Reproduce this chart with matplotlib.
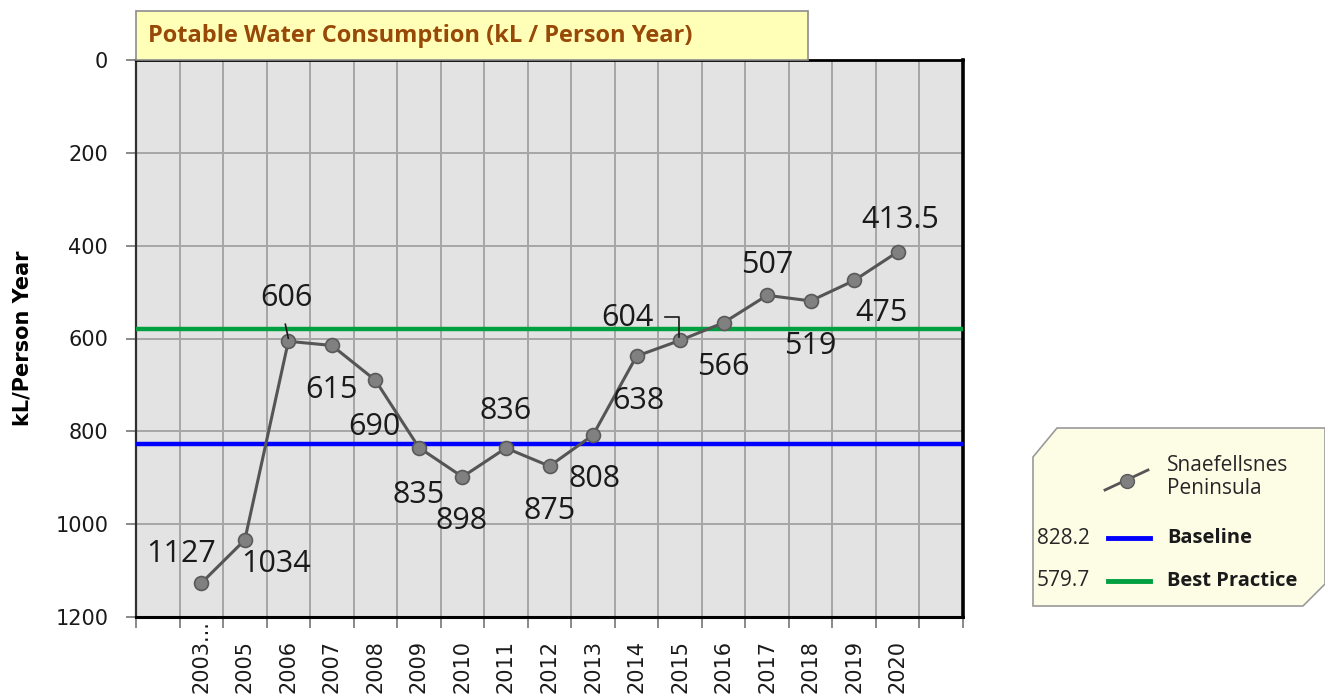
import matplotlib
matplotlib.use("Agg")
import matplotlib.pyplot as plt
from matplotlib.patches import Rectangle, Polygon
from matplotlib.lines import Line2D

# ---- data ----
years = ["2003...", "2005", "2006", "2007", "2008", "2009", "2010", "2011", "2012",
         "2013", "2014", "2015", "2016", "2017", "2018", "2019", "2020"]
consumption = [1127, 1034, 606, 615, 690, 835, 898, 836, 875, 808, 638, 604, 566,
               507, 519, 475, 413.5]
value_labels = ["1127", "1034", "606", "615", "690", "835", "898", "836", "875", "808",
                "638", "604", "566", "507", "519", "475", "413.5"]
baseline = 828.2
best_practice = 579.7
series_name = "Snaefellsnes\nPeninsula"
title = "Potable Water Consumption (kL / Person Year)"
ylabel = "kL/Person Year"
yticks = [0, 200, 400, 600, 800, 1000, 1200]

# label offsets in pixels (dx, dy up)
label_offsets = [(-20, 29), (31, -24), (-2, 43), (0, -45), (-1, -47), (0, -47), (-1, -44),
                 (0, 37), (0, -45), (2, -44), (2, -45), (-53, 22), (0, -44), (0, 30),
                 (0, -45), (27, -33), (3, 32)]

W, H = 1325, 698
def fx(p): return p / W
def fy(p): return 1 - p / H

fig = plt.figure(figsize=(W / 100, H / 100), dpi=100)
fig.patch.set_facecolor("white")
L, R, T, B = 136, 963, 60, 617
ax = fig.add_axes([fx(L), fy(B), (R - L) / W, (B - T) / H])
ax.set_facecolor("#E3E3E3")

nslots = len(years) + 2
xs = [i + 1.5 for i in range(len(years))]
ax.set_xlim(0, nslots)
ax.set_ylim(1200, 0)

# grid / ticks
ax.set_xticks(range(0, nslots + 1))
ax.set_xticklabels([])
ax.set_xticks(xs, minor=True)
ax.set_xticklabels(years, minor=True, rotation=90, fontsize=15, color="#1a1a1a",
                   family="DejaVu Sans")
ax.tick_params(axis="x", which="minor", length=0, pad=(693 - B) * 0.72)
for lab in ax.get_xticklabels(minor=True):
    lab.set_rotation_mode("anchor")
    lab.set_ha("left")
    lab.set_va("center")
ax.tick_params(axis="x", which="major", length=8, width=1.3, color="#808080")
ax.set_yticks(yticks)
ax.set_yticklabels([str(t) for t in yticks], fontsize=15, color="#1a1a1a", family="DejaVu Sans")
ax.tick_params(axis="y", length=7, width=1.3, color="#808080", pad=13)
ax.grid(True, which="major", color="#A6A6A6", lw=1.4)
ax.set_axisbelow(True)

for s, c, w in [("left", "#303030", 1.6), ("bottom", "#000000", 2.2),
                ("right", "#000000", 2.6), ("top", "#000000", 2.0)]:
    ax.spines[s].set_color(c)
    ax.spines[s].set_linewidth(w)

ax.set_ylabel(ylabel, fontsize=15, fontweight="bold", family="DejaVu Sans")
ax.yaxis.set_label_coords(-(L - 33) / (R - L), 0.5)

# reference lines
ax.axhline(baseline, color="#0000FF", lw=3.2, zorder=3)
ax.axhline(best_practice, color="#00A040", lw=3.2, zorder=3)

# series
ax.plot(xs, consumption, color="#555555", lw=2.2, marker="o", markersize=10,
        markerfacecolor="#808080", markeredgecolor="#5a5a5a", markeredgewidth=1.2, zorder=4)

for x, v, t, (dx, dy) in zip(xs, consumption, value_labels, label_offsets):
    ax.annotate(t, (x, v), xytext=(dx, dy), textcoords="offset pixels", ha="center",
                va="center", fontsize=22, family="Open Sans", color="#1a1a1a", zorder=5)

# leader lines for 606 and 604
fig.canvas.draw()
def leader(idx, pts):
    px, py = ax.transData.transform((xs[idx], consumption[idx]))
    lx = [(px + a) / W for a, b in pts]
    ly = [(py + b) / H for a, b in pts]
    fig.add_artist(Line2D(lx, ly, transform=fig.transFigure, color="#1a1a1a", lw=1.2, zorder=6))
leader(2, [(-3, 17), (0, 3)])
leader(11, [(-15, 23), (-1, 23), (-1, 3)])

# title box
fig.add_artist(Rectangle((fx(136), fy(60)), (808 - 136) / W, 49 / H, transform=fig.transFigure,
                         facecolor="#FFFFB8", edgecolor="#8c8c8c", lw=1.2, zorder=10))
ttl = fig.text(fx(148), fy(36), title, fontsize=17, fontweight="bold", color="#984807",
               family="Open Sans", va="center", ha="left", zorder=11)
rend = fig.canvas.get_renderer()
fs = 17
while ttl.get_window_extent(rend).width > 650 and fs > 8:
    fs -= 0.25
    ttl.set_fontsize(fs)

# legend box
poly = [(1033, 457), (1057, 428), (1325, 428), (1325, 584), (1303, 606), (1033, 606)]
fig.add_artist(Polygon([(fx(a), fy(b)) for a, b in poly], closed=True, transform=fig.transFigure,
                       facecolor="#FDFDE6", edgecolor="#9a9a9a", lw=1.2))
fig.add_artist(Line2D([fx(1105), fx(1148)], [fy(490), fy(470)], transform=fig.transFigure,
                      color="#555555", lw=2))
fig.add_artist(Line2D([fx(1127)], [fy(481)], transform=fig.transFigure, marker="o",
                      markersize=10, markerfacecolor="#808080", markeredgecolor="#5a5a5a"))
fig.text(fx(1167), fy(477), series_name, fontsize=15, family="Open Sans", color="#262626",
         va="center", ha="left", linespacing=1.15)
for yv, val, col, name in [(538, baseline, "#0000FF", "Baseline"),
                           (581, best_practice, "#00A040", "Best Practice")]:
    fig.text(fx(1037), fy(yv), f"{val}", fontsize=15, family="Open Sans", color="#262626",
             va="center", ha="left")
    fig.add_artist(Line2D([fx(1108), fx(1150)], [fy(yv), fy(yv)], transform=fig.transFigure,
                          color=col, lw=3.5))
    fig.text(fx(1167), fy(yv), name, fontsize=14.5, family="Open Sans", fontweight="bold",
             color="#1a1a1a", va="center", ha="left")

fig.savefig("out.png", dpi=100)
